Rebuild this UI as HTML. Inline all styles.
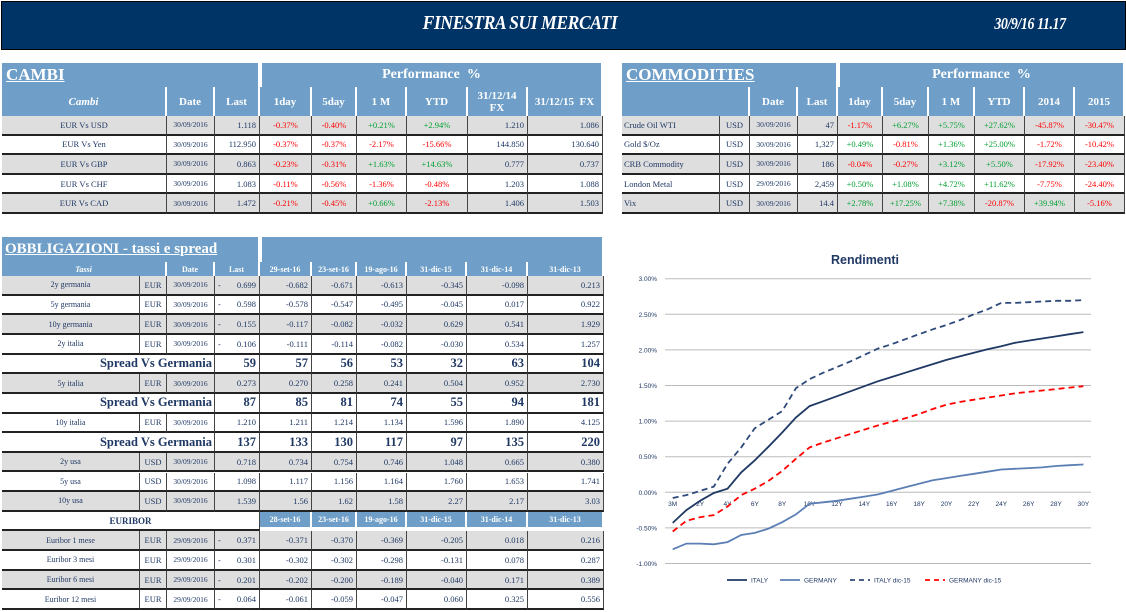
<!DOCTYPE html>
<html><head><meta charset="utf-8">
<style>
body{margin:0;width:1126px;height:612px;background:#fff;position:relative;overflow:hidden;font-family:"Liberation Serif",serif;}
.c{position:absolute;box-sizing:border-box;display:flex;align-items:center;font-size:8.5px;color:#1f3864;white-space:nowrap;overflow:hidden;}
.h{background:#6f9fc8;color:#fff;font-weight:bold;justify-content:center;font-size:11px;border-right:2px solid #fff;}
.g{background:#dedede;}
.w{background:#fff;}
.d{border-right:1px solid #444;border-bottom:2px solid #222;}
.r{color:#ff0000;justify-content:center;}
.p{color:#00a030;justify-content:center;}
.n{justify-content:flex-end;padding-right:3px;}
.m{justify-content:center;}
</style></head><body>
<div style="position:absolute;left:1px;top:1px;width:1125px;height:49px;background:#003366;border:1px solid #000;box-sizing:border-box"></div>
<div style="position:absolute;left:400px;top:12px;width:240px;text-align:center;color:#fff;font-style:italic;font-weight:bold;font-size:20px;letter-spacing:-0.5px;transform:scaleX(0.88)">FINESTRA SUI MERCATI</div>
<div style="position:absolute;left:975px;top:14px;width:110px;text-align:center;color:#fff;font-style:italic;font-weight:bold;font-size:17px;letter-spacing:-0.5px;transform:scaleX(0.82)">30/9/16 11.17</div>
<div id="root"></div>
<svg id="ch" width="1126" height="612" style="position:absolute;left:0;top:0" xmlns="http://www.w3.org/2000/svg"></svg>
<script>
var R=document.getElementById('root');
function c(x,y,w,h,t,cls,st){var d=document.createElement('div');d.className='c '+(cls||'');d.style.left=x+'px';d.style.top=y+'px';d.style.width=w+'px';d.style.height=h+'px';if(st)d.style.cssText+=st;d.innerHTML=t;R.appendChild(d);return d;}
function pc(v){return v.charAt(0)=='-'?'r':'p';}
var cc=[2,167,215,260,312,357,407,468,528,603];
c(2,63,258,24,'<u>CAMBI</u>','h','justify-content:flex-start;padding-left:4px;font-size:17px;');
c(262,63,341,24,'Performance &nbsp;%','h','font-size:14px;');
var hd=['<i>Cambi</i>','Date','Last','1day','5day','1 M','YTD','31/12/14<br>FX','31/12/15 &nbsp;FX'];
for(var i=0;i<9;i++)c(cc[i],87,cc[i+1]-cc[i],29,hd[i],'h','text-align:center;line-height:12px;');
var cam=[['EUR Vs USD','1.118','-0.37%','-0.40%','+0.21%','+2.94%','1.210','1.086'],
['EUR Vs Yen','112.950','-0.37%','-0.37%','-2.17%','-15.66%','144.850','130.640'],
['EUR Vs GBP','0.863','-0.23%','-0.31%','+1.63%','+14.63%','0.777','0.737'],
['EUR Vs CHF','1.083','-0.11%','-0.56%','-1.36%','-0.48%','1.203','1.088'],
['EUR Vs CAD','1.472','-0.21%','-0.45%','+0.66%','-2.13%','1.406','1.503']];
cam.forEach(function(r,k){var y=116+k*19.6,bg=k%2?'w':'g';
c(2,y,165,19.6,r[0],bg+' d m');c(167,y,48,19.6,'30/09/2016',bg+' d m','font-size:7.5px');c(215,y,45,19.6,r[1],bg+' d n');
for(var j=0;j<4;j++)c(cc[3+j],y,cc[4+j]-cc[3+j],19.6,r[2+j],bg+' d '+pc(r[2+j]));
c(468,y,60,19.6,r[6],bg+' d n');c(528,y,75,19.6,r[7],bg+' d n');});
var mc=[622,720,750,798,838,883,929,975,1025,1075,1125];
c(622,63,216,24,'<u>COMMODITIES</u>','h','justify-content:flex-start;padding-left:4px;font-size:17px;');
c(840,63,285,24,'Performance &nbsp;%','h','font-size:14px;');
c(622,87,128,29,'','h');
var mh=['Date','Last','1day','5day','1 M','YTD','2014','2015'];
for(i=0;i<8;i++)c(mc[i+2],87,mc[i+3]-mc[i+2],29,mh[i],'h');
var com=[['Crude Oil WTI','30/09/2016','47','-1.17%','+6.27%','+5.75%','+27.62%','-45.87%','-30.47%'],
['Gold $/Oz','30/09/2016','1,327','+0.49%','-0.81%','+1.36%','+25.00%','-1.72%','-10.42%'],
['CRB Commodity','30/09/2016','186','-0.04%','-0.27%','+3.12%','+5.50%','-17.92%','-23.40%'],
['London Metal','29/09/2016','2,459','+0.50%','+1.08%','+4.72%','+11.62%','-7.75%','-24.40%'],
['Vix','30/09/2016','14.4','+2.78%','+17.25%','+7.38%','-20.87%','+39.94%','-5.16%']];
com.forEach(function(r,k){var y=116+k*19.6,bg=k%2?'w':'g';
c(622,y,98,19.6,r[0],bg+' d','padding-left:2px');c(720,y,30,19.6,'USD',bg+' d m');c(750,y,48,19.6,r[1],bg+' d m','font-size:7.5px');c(798,y,40,19.6,r[2],bg+' d n');
for(var j=0;j<6;j++)c(mc[4+j],y,mc[5+j]-mc[4+j],19.6,r[3+j],bg+' d '+pc(r[3+j]));});
var bc=[2,140,167,215,260,312,357,407,467,528,604];
c(2,237,258,25,'<u>OBBLIGAZIONI - tassi e spread</u>','h','justify-content:flex-start;padding-left:3px;font-size:15px;');
c(262,237,342,25,'','h');
c(2,262,165,14,'<i>Tassi</i>','h','font-size:8px');
var bh=['Date','Last','29-set-16','23-set-16','19-ago-16','31-dic-15','31-dic-14','31-dic-13'];
for(i=0;i<8;i++)c(bc[i+2],262,bc[i+3]-bc[i+2],14,bh[i],'h','font-size:8px');
var rows=[
['2y germania','EUR','30/09/2016','0.699','-0.682','-0.671','-0.613','-0.345','-0.098','0.213',1],
['5y germania','EUR','30/09/2016','0.598','-0.578','-0.547','-0.495','-0.045','0.017','0.922',1],
['10y germania','EUR','30/09/2016','0.155','-0.117','-0.082','-0.032','0.629','0.541','1.929',1],
['2y italia','EUR','30/09/2016','0.106','-0.111','-0.114','-0.082','-0.030','0.534','1.257',1],
['S','59','57','56','53','32','63','104'],
['5y italia','EUR','30/09/2016','0.273','0.270','0.258','0.241','0.504','0.952','2.730',0],
['S','87','85','81','74','55','94','181'],
['10y italia','EUR','30/09/2016','1.210','1.211','1.214','1.134','1.596','1.890','4.125',0],
['S','137','133','130','117','97','135','220'],
['2y usa','USD','30/09/2016','0.718','0.734','0.754','0.746','1.048','0.665','0.380',0],
['5y usa','USD','30/09/2016','1.098','1.117','1.156','1.164','1.760','1.653','1.741',0],
['10y usa','USD','30/09/2016','1.539','1.56','1.62','1.58','2.27','2.17','3.03',0],
['E'],
['Euribor 1 mese','EUR','29/09/2016','0.371','-0.371','-0.370','-0.369','-0.205','0.018','0.216',1],
['Euribor 3 mesi','EUR','29/09/2016','0.301','-0.302','-0.302','-0.298','-0.131','0.078','0.287',1],
['Euribor 6 mesi','EUR','29/09/2016','0.201','-0.202','-0.200','-0.189','-0.040','0.171','0.389',1],
['Euribor 12 mesi','EUR','29/09/2016','0.064','-0.061','-0.059','-0.047','0.060','0.325','0.556',1]];
var alt=0;
rows.forEach(function(r,k){var y=276+k*19.65,h=19.65;
if(r[0]=='S'){c(2,y,213,h,'Spread Vs Germania','w d','justify-content:flex-end;padding-right:2px;font-weight:bold;font-size:12.5px');
for(var j=0;j<7;j++)c(bc[3+j],y,bc[4+j]-bc[3+j],h,r[1+j],'w d n','font-weight:bold;font-size:12.5px');return;}
if(r[0]=='E'){c(2,y,258,h,'EURIBOR','w d m','font-weight:bold;font-size:9px');
var eh=['28-set-16','23-set-16','19-ago-16','31-dic-15','31-dic-14','31-dic-13'];
for(var j=0;j<6;j++)c(bc[4+j],y,bc[5+j]-bc[4+j],h-4,eh[j],'h','font-size:8px');alt=0;return;}
var bg=alt%2?'w':'g';alt++;
c(2,y,138,h,r[0],bg+' d m','font-size:8px');c(140,y,27,h,r[1],bg+' d m');c(167,y,48,h,r[2],bg+' d m','font-size:7.5px');
var l=c(215,y,45,h,r[3],bg+' d n');if(r[10])l.innerHTML='<span style="position:absolute;left:3px">-</span>'+r[3];
for(var j=0;j<6;j++)c(bc[4+j],y,bc[5+j]-bc[4+j],h,r[4+j],bg+' d n');});
var S=document.getElementById('ch'),s='';
s+='<text x="865" y="264" text-anchor="middle" font-family="Liberation Sans" font-weight="bold" font-size="12.5" fill="#1f3864">Rendimenti</text>';
for(var g=0;g<9;g++){var v=3-g*0.5,y=492.3-v*71.2;s+='<line x1="665" x2="1091" y1="'+y+'" y2="'+y+'" stroke="#bbb" stroke-width="1"/>';
s+='<text x="657" y="'+(y+2.5)+'" text-anchor="end" font-family="Liberation Sans" font-size="6.5" fill="#1f3864">'+v.toFixed(2)+'%</text>';}
function X(i){return 672.7+i*13.69;}
for(var i=0;i<31;i+=2){s+='<text x="'+X(i)+'" y="506" text-anchor="middle" font-family="Liberation Sans" font-size="6.5" fill="#1f3864">'+(i==0?'3M':i+'Y')+'</text>';}
var D={it:[-0.43,-0.25,-0.12,-0.01,0.05,0.28,0.45,0.64,0.84,1.05,1.21,1.28,1.35,1.42,1.49,1.56,1.62,1.68,1.74,1.80,1.86,1.91,1.96,2.01,2.05,2.10,2.13,2.16,2.19,2.22,2.25],
de:[-0.80,-0.72,-0.72,-0.73,-0.70,-0.60,-0.57,-0.51,-0.42,-0.31,-0.16,-0.14,-0.12,-0.09,-0.06,-0.03,0.02,0.07,0.12,0.17,0.20,0.23,0.26,0.29,0.32,0.33,0.34,0.35,0.37,0.38,0.39],
it15:[-0.08,-0.04,0.02,0.08,0.40,0.63,0.90,1.02,1.14,1.46,1.59,1.68,1.76,1.84,1.93,2.02,2.08,2.15,2.22,2.29,2.35,2.42,2.50,2.57,2.66,2.66,2.67,2.68,2.69,2.69,2.70],
de15:[-0.55,-0.40,-0.35,-0.32,-0.20,-0.04,0.05,0.16,0.30,0.47,0.63,0.70,0.76,0.82,0.88,0.94,0.99,1.04,1.10,1.17,1.23,1.27,1.30,1.33,1.36,1.39,1.41,1.43,1.45,1.47,1.49]};
function pl(a,col,da){return '<polyline fill="none" stroke="'+col+'" stroke-width="1.8" '+(da?'stroke-dasharray="6,4" ':'')+'points="'+a.map(function(v,i){return X(i).toFixed(1)+','+(492.3-v*71.2).toFixed(1)}).join(' ')+'"/>';}
s+=pl(D.de,'#5b7fb5');s+=pl(D.it,'#1f3864');s+=pl(D.it15,'#2e4a7a',1);s+=pl(D.de15,'#ff0000',1);
var L=[[727,'ITALY','#1f3864',0],[780,'GERMANY','#5b7fb5',0],[850,'ITALY dic-15','#2e4a7a',1],[925,'GERMANY dic-15','#ff0000',1]];
L.forEach(function(l){s+='<line x1="'+l[0]+'" x2="'+(l[0]+20)+'" y1="580" y2="580" stroke="'+l[2]+'" stroke-width="1.8"'+(l[3]?' stroke-dasharray="5,4"':'')+'/>';
s+='<text x="'+(l[0]+24)+'" y="582.5" font-family="Liberation Sans" font-size="6.5" fill="#1f3864">'+l[1]+'</text>';});
S.innerHTML=s;
</script>
</body></html>
